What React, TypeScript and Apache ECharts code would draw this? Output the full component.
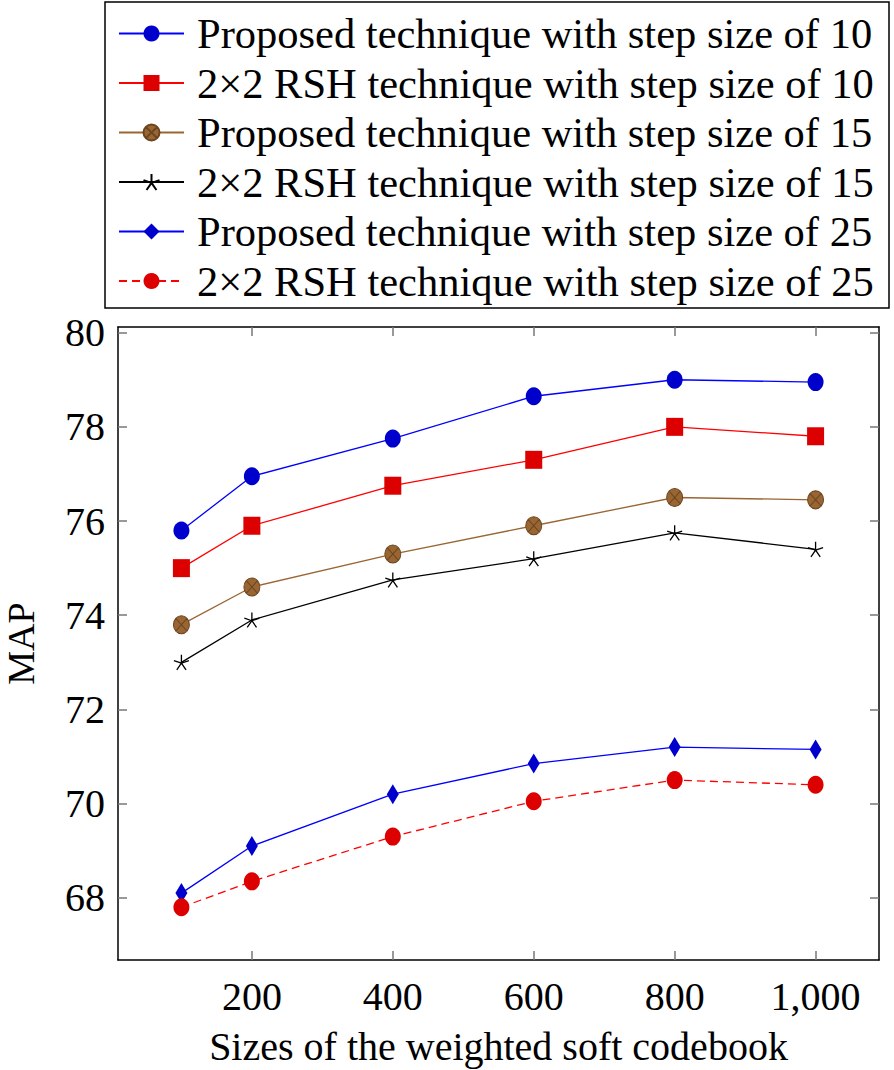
import React, { useEffect, useRef } from "react";
import * as echarts from "echarts";

const sizes = [100, 200, 400, 600, 800, 1000];
const xTicks = [200, 400, 600, 800, 1000];
const yTicks = [68, 70, 72, 74, 76, 78, 80];

const proposed10 = [75.8, 76.95, 77.75, 78.65, 79.0, 78.95];
const rsh10 = [75.0, 75.9, 76.75, 77.3, 78.0, 77.8];
const proposed15 = [73.8, 74.6, 75.3, 75.9, 76.5, 76.45];
const rsh15 = [73.0, 73.9, 74.75, 75.2, 75.75, 75.4];
const proposed25 = [68.1, 69.1, 70.2, 70.85, 71.2, 71.15];
const rsh25 = [67.8, 68.35, 69.3, 70.05, 70.5, 70.4];

const seriesNames = [
  "Proposed technique with step size of 10",
  "2×2 RSH technique with step size of 10",
  "Proposed technique with step size of 15",
  "2×2 RSH technique with step size of 15",
  "Proposed technique with step size of 25",
  "2×2 RSH technique with step size of 25",
];

const FONT = "'Liberation Serif', 'Times New Roman', serif";

const otimes =
  "path://M0,10 A10,10 0 1,1 20,10 A10,10 0 1,1 0,10 Z M2.93,2.93 L17.07,17.07 M17.07,2.93 L2.93,17.07";
const star =
  "path://M10,10 L10,0 M10,10 L19.51,6.91 M10,10 L0.49,6.91 M10,10 L4.12,18.09 M10,10 L15.88,18.09";

export default function App() {
  const ref = useRef<HTMLDivElement>(null);
  useEffect(() => {
    if (!ref.current) return;
    const chart = echarts.init(ref.current, undefined, { renderer: "svg" });
    const pair = (vals: number[]) => sizes.map((s, i) => [s, vals[i]]);
    const mk = (
      name: string,
      vals: number[],
      lineColor: string,
      fill: string,
      symbol: string,
      symbolSize: any,
      extra: any = {}
    ) => ({
      type: "line",
      name,
      data: pair(vals),
      xAxisIndex: 0,
      yAxisIndex: 0,
      symbol,
      symbolSize,
      lineStyle: { color: lineColor, width: 1.3, type: extra.dash ? [8, 5] : "solid" },
      itemStyle: {
        color: fill,
        borderColor: extra.border || fill,
        borderWidth: extra.borderWidth ?? 0,
      },
      emphasis: { disabled: true },
      z: extra.z ?? 2,
    });
    chart.setOption({
      animation: false,
      backgroundColor: "#ffffff",
      textStyle: { fontFamily: FONT },
      grid: { left: 118, right: 15, top: 327, bottom: 110, containLabel: false, outerBoundsMode: "none" },
      graphic: [
        {
          type: "rect",
          shape: { x: 105, y: 2, width: 784, height: 306 },
          style: { fill: "none", stroke: "#000", lineWidth: 1.5 },
          z: 100,
        },
      ],
      legend: {
        orient: "vertical",
        left: 118,
        top: 12,
        itemWidth: 65,
        itemHeight: 20,
        itemGap: 6.5,
        padding: 0,
        textStyle: { fontSize: 42.5, fontFamily: FONT, color: "#000", lineHeight: 42, padding: [0, 0, 0, 8] },
        data: seriesNames,
      },
      xAxis: [
        {
          type: "value",
          min: 10,
          max: 1090,
          position: "bottom",
          name: "Sizes of the weighted soft codebook",
          nameLocation: "middle",
          nameGap: 66,
          nameTextStyle: { fontSize: 40, fontFamily: FONT, color: "#000" },
          axisLine: { show: true, lineStyle: { color: "#000", width: 1.5 } },
          axisTick: { show: true, inside: true, length: 9, customValues: xTicks, lineStyle: { color: "#777", width: 1.5 } },
          axisLabel: {
            customValues: xTicks,
            margin: 16,
            fontSize: 40,
            fontFamily: FONT,
            color: "#000",
            formatter: (v: number) => v.toLocaleString("en-US"),
          },
          splitLine: { show: false },
        },
        {
          type: "value",
          min: 10,
          max: 1090,
          position: "top",
          axisLine: { show: true, lineStyle: { color: "#000", width: 1.5 } },
          axisTick: { show: true, inside: true, length: 9, customValues: xTicks, lineStyle: { color: "#777", width: 1.5 } },
          axisLabel: { show: false },
          splitLine: { show: false },
        },
      ],
      yAxis: [
        {
          type: "value",
          min: 66.68,
          max: 80.12,
          position: "left",
          name: "MAP",
          nameLocation: "middle",
          nameGap: 78,
          nameTextStyle: { fontSize: 38, fontFamily: FONT, color: "#000" },
          axisLine: { show: true, lineStyle: { color: "#000", width: 1.5 } },
          axisTick: { show: true, inside: true, length: 9, customValues: yTicks, lineStyle: { color: "#777", width: 1.5 } },
          axisLabel: { customValues: yTicks, margin: 13, fontSize: 40, fontFamily: FONT, color: "#000" },
          splitLine: { show: false },
        },
        {
          type: "value",
          min: 66.68,
          max: 80.12,
          position: "right",
          axisLine: { show: true, lineStyle: { color: "#000", width: 1.5 } },
          axisTick: { show: true, inside: true, length: 9, customValues: yTicks, lineStyle: { color: "#777", width: 1.5 } },
          axisLabel: { show: false },
          splitLine: { show: false },
        },
      ],
      series: [
        mk(seriesNames[0], proposed10, "#0000ff", "#0000cc", "circle", [16, 18]),
        mk(seriesNames[1], rsh10, "#ff0000", "#dd0000", "rect", [17, 18]),
        mk(seriesNames[2], proposed15, "#996633", "#996633", otimes, [16, 18], { border: "#6b4520", borderWidth: 1 }),
        mk(seriesNames[3], rsh15, "#000000", "none", star, [15, 15], { border: "#000", borderWidth: 1.3 }),
        mk(seriesNames[4], proposed25, "#0000ff", "#0000cc", "diamond", [12, 20]),
        mk(seriesNames[5], rsh25, "#ff0000", "#dd0000", "circle", [16, 18], { dash: true }),
      ],
    });
    return () => chart.dispose();
  }, []);
  return (
    <div
      ref={ref}
      style={{ position: "fixed", left: 0, top: 0, width: 894, height: 1070, background: "#fff" }}
    />
  );
}
